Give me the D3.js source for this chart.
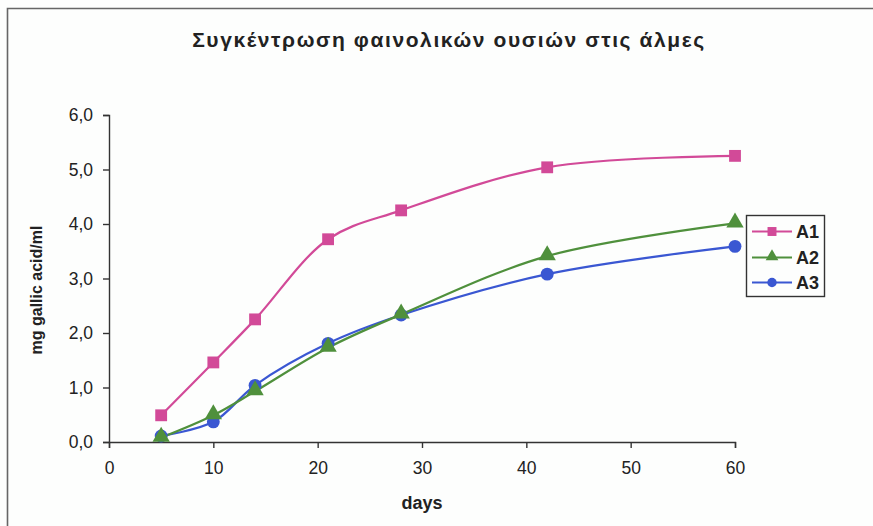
<!DOCTYPE html>
<html>
<head>
<meta charset="utf-8">
<script src="https://cdn.jsdelivr.net/npm/d3@7"></script>
<style>
  html, body { margin: 0; padding: 0; background: #fdfefd; }
  svg { display: block; }
  text { font-family: "Liberation Sans", Arial, sans-serif; fill: #222; }
</style>
</head>
<body>
<svg id="chart" width="873" height="526"></svg>
<script>
// Sampling days and phenolic concentration (mg gallic acid/ml) per brine
const days = [5, 10, 14, 21, 28, 42, 60];
const seriesNames = ["A1", "A2", "A3"];
const valuesA1 = [0.49, 1.46, 2.25, 3.72, 4.25, 5.04, 5.25];
const valuesA2 = [0.08, 0.49, 0.93, 1.73, 2.34, 3.41, 4.01];
const valuesA3 = [0.11, 0.37, 1.04, 1.81, 2.33, 3.08, 3.59];
const xTicks = [0, 10, 20, 30, 40, 50, 60];
const yTicks = [0, 1, 2, 3, 4, 5, 6];

const title = "Συγκέντρωση φαινολικών ουσιών στις άλμες";
const xLabel = "days";
const yLabel = "mg gallic acid/ml";

const colors = { A1: "#d24a98", A2: "#4f903c", A3: "#3a57d2" };
const symbols = { A1: d3.symbolSquare, A2: d3.symbolTriangle, A3: d3.symbolCircle };
const symbolSize = { A1: 140, A2: 130, A3: 130 };

const series = [
  { name: "A1", values: valuesA1 },
  { name: "A2", values: valuesA2 },
  { name: "A3", values: valuesA3 }
].map(s => ({ name: s.name, points: days.map((d, i) => ({ x: d, y: s.values[i] })) }));

const svg = d3.select("#chart");

// outer chart-area frame (left and top edges)
svg.append("path")
  .attr("d", "M7.5,526 V8.5 H873")
  .attr("fill", "none")
  .attr("stroke", "#666")
  .attr("stroke-width", 1.6);

const x = d3.scaleLinear().domain([0, 60]).range([109, 735]);
const y = d3.scaleLinear().domain([0, 6]).range([442, 115]);

// title
svg.append("text")
  .attr("x", 449)
  .attr("y", 47)
  .attr("text-anchor", "middle")
  .attr("font-size", 21)
  .attr("font-weight", "bold")
  .attr("letter-spacing", 1.6)
  .text(title);

// y axis
const yAxis = svg.append("g")
  .attr("transform", `translate(${x(0)},0)`)
  .call(d3.axisLeft(y).tickValues(yTicks).tickSize(6).tickPadding(10)
    .tickFormat(d => d3.format(".1f")(d).replace(".", ",")));
yAxis.selectAll("text").attr("font-size", 17.5).attr("font-family", "Liberation Sans, Arial, sans-serif").attr("fill", "#222");

// x axis
const xAxis = svg.append("g")
  .attr("transform", `translate(0,${y(0)})`)
  .call(d3.axisBottom(x).tickValues(xTicks).tickSize(6).tickPadding(14));
xAxis.selectAll("text").attr("font-size", 17.5).attr("font-family", "Liberation Sans, Arial, sans-serif").attr("fill", "#222");

[yAxis, xAxis].forEach(g => {
  g.selectAll(".domain, line").attr("stroke", "#333").attr("stroke-width", 1.4);
});

// axis titles
svg.append("text")
  .attr("x", 422)
  .attr("y", 509)
  .attr("text-anchor", "middle")
  .attr("font-size", 18)
  .attr("font-weight", "bold")
  .text(xLabel);

svg.append("text")
  .attr("transform", "translate(42,290) rotate(-90)")
  .attr("text-anchor", "middle")
  .attr("font-size", 16)
  .attr("font-weight", "bold")
  .text(yLabel);

// smoothed series lines
const line = d3.line()
  .x(d => x(d.x))
  .y(d => y(d.y))
  .curve(d3.curveCatmullRom.alpha(0.5));

const draw = ["A1", "A3", "A2"].map(n => series.find(s => s.name === n));
svg.append("g").selectAll("path")
  .data(draw)
  .join("path")
  .attr("d", d => line(d.points))
  .attr("fill", "none")
  .attr("stroke", d => colors[d.name])
  .attr("stroke-width", 2.2);

// markers
draw.forEach(s => {
  svg.append("g").selectAll("path")
    .data(s.points)
    .join("path")
    .attr("transform", d => `translate(${x(d.x)},${y(d.y) + (s.name === "A2" ? -1 : 0)})`)
    .attr("d", d3.symbol().type(symbols[s.name]).size(symbolSize[s.name]))
    .attr("fill", colors[s.name]);
});

// legend
const legend = svg.append("g");
legend.append("rect")
  .attr("x", 746.5).attr("y", 215.5)
  .attr("width", 78).attr("height", 81)
  .attr("fill", "#fdfefd")
  .attr("stroke", "#333")
  .attr("stroke-width", 1.4);

const legendY = { A1: 231.5, A2: 257.5, A3: 282.5 };
seriesNames.forEach(n => {
  const ly = legendY[n];
  legend.append("line")
    .attr("x1", 752).attr("x2", 792)
    .attr("y1", ly).attr("y2", ly)
    .attr("stroke", colors[n]).attr("stroke-width", 2.2);
  legend.append("path")
    .attr("transform", `translate(772,${ly + (n === "A2" ? -1 : 0)})`)
    .attr("d", d3.symbol().type(symbols[n]).size(n === "A1" ? 80 : 70))
    .attr("fill", colors[n]);
  legend.append("text")
    .attr("x", 796).attr("y", ly + 6.5)
    .attr("font-size", 18)
    .attr("font-weight", "bold")
    .text(n);
});
</script>
</body>
</html>
